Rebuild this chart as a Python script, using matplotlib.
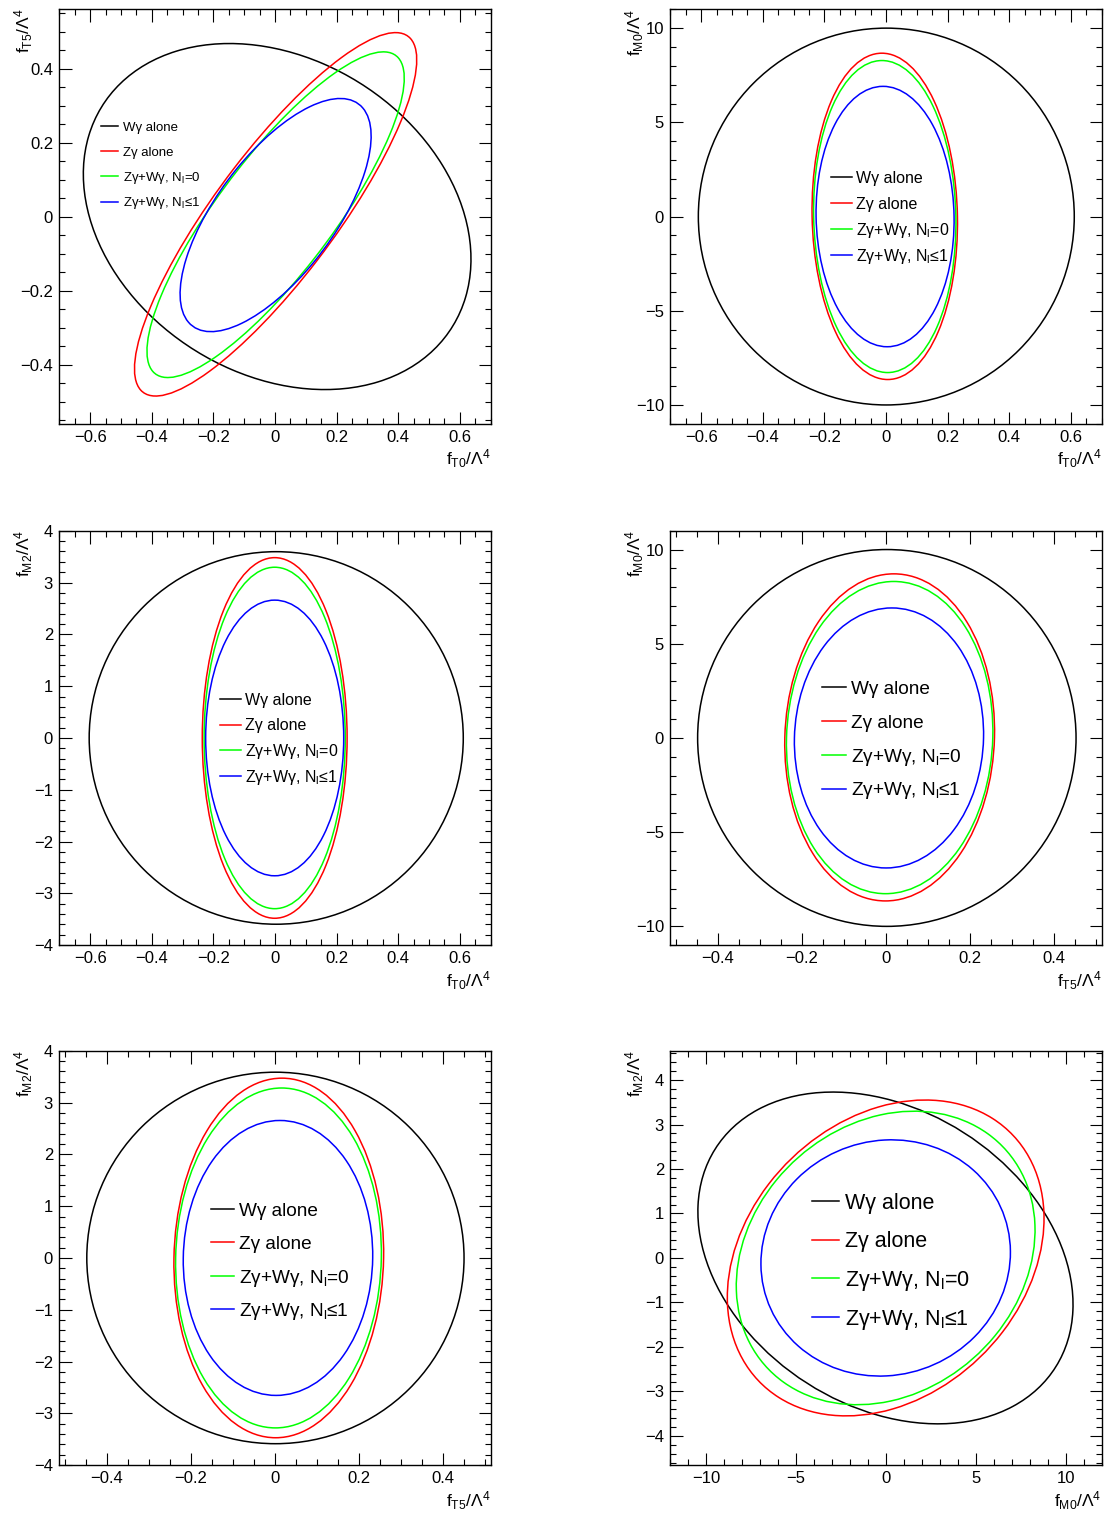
import matplotlib
matplotlib.use("Agg")

import matplotlib.pyplot as plt
import numpy as np
from matplotlib.lines import Line2D
from matplotlib.patches import Ellipse
from matplotlib.ticker import FuncFormatter, MultipleLocator
from matplotlib.transforms import ScaledTranslation


# ---------------------------------- #
# ---------------DATA--------------- #
# ---------------------------------- #

# Contour order in every panel
CURVE_LABELS = [
    "W\u03b3 alone",
    "Z\u03b3 alone",
    "Z\u03b3+W\u03b3, $\\mathrm{N}_{\\mathrm{l}}$=0",
    "Z\u03b3+W\u03b3, $\\mathrm{N}_{\\mathrm{l}}$\u22641",
]
CURVE_COLORS = ["#000000", "#ff0000", "#00ff00", "#0000ff"]

# 95% CL contours: centre (cx, cy), half extent along x and y, x-y correlation
# f_T0 vs f_T5
T0T5_CX = [0.007, 0.002, 0.002, 0.002]
T0T5_CY = [0.0, 0.006, 0.005, 0.004]
T0T5_HX = [0.629, 0.458, 0.4175, 0.31]
T0T5_HY = [0.4675, 0.491, 0.44, 0.315]
T0T5_RHO = [-0.246, 0.85, 0.838, 0.677]

# f_T0 vs f_M0
T0M0_CX = [0.001, -0.004, -0.004, -0.003]
T0M0_CY = [0.0, 0.01, 0.0, 0.0]
T0M0_HX = [0.61, 0.236, 0.231, 0.224]
T0M0_HY = [10.0, 8.66, 8.28, 6.91]
T0M0_RHO = [0.0, -0.04, -0.04, -0.03]

# f_T0 vs f_M2
T0M2_CX = [0.004, -0.001, -0.001, -0.001]
T0M2_CY = [0.0, 0.0, 0.0, 0.0]
T0M2_HX = [0.607, 0.235, 0.229, 0.224]
T0M2_HY = [3.595, 3.48, 3.295, 2.66]
T0M2_RHO = [0.0, 0.0, 0.0, 0.0]

# f_T5 vs f_M0
T5M0_CX = [0.002, 0.0087, 0.0087, 0.0071]
T5M0_CY = [0.0, 0.03, 0.02, 0.0]
T5M0_HX = [0.45, 0.2495, 0.2455, 0.225]
T5M0_HY = [10.0, 8.68, 8.285, 6.90]
T5M0_RHO = [0.0, 0.04, 0.04, 0.03]

# f_T5 vs f_M2
T5M2_CX = [0.001, 0.009, 0.0083, 0.0071]
T5M2_CY = [0.0, 0.0, 0.0, 0.0]
T5M2_HX = [0.4486, 0.2494, 0.2447, 0.2253]
T5M2_HY = [3.585, 3.47, 3.28, 2.653]
T5M2_RHO = [0.0, 0.03, 0.03, 0.02]

# f_M0 vs f_M2
M0M2_CX = [-0.03, -0.018, -0.019, -0.018]
M0M2_CY = [0.0, 0.0, 0.0, 0.0]
M0M2_HX = [10.435, 8.81, 8.31, 6.94]
M0M2_HY = [3.73, 3.551, 3.30, 2.656]
M0M2_RHO = [-0.28, 0.25, 0.19, 0.047]


# ---------------------------------- #
# --------------STYLE--------------- #
# ---------------------------------- #

plt.rcParams["font.family"] = ["Liberation Sans", "DejaVu Sans"]
plt.rcParams["mathtext.fontset"] = "custom"
plt.rcParams["mathtext.rm"] = "Liberation Sans"
plt.rcParams["mathtext.it"] = "Liberation Sans:italic"
plt.rcParams["mathtext.bf"] = "Liberation Sans:bold"

LINE_WIDTH = 1.1
TICK_SIZE = 12
LABEL_SIZE = 12.5

# Axes rectangles in figure fraction
COL_LEFT = [0.05342, 0.60387]
ROW_BOTTOM = [0.72008, 0.37569, 0.03223]
AX_WIDTH = 0.38865
AX_HEIGHT = 0.27378


def axis_title(name):
    """
    Build the axis title for a given coupling name.

    :param name:    Operator name, e.g. 'T0'.

    :return:        The mathtext string.
    """
    return "f$_{\\mathrm{" + name + "}}$/\u039b$^{4}$"


def tick_text(value, pos):
    """
    Format tick labels the ROOT way: no trailing zeros and a real minus sign.
    """
    value = round(value, 6)
    if value == 0:
        return "0"
    return f"{value:g}".replace("-", "\u2212")


def contour_patch(cx, cy, hx, hy, rho, color):
    """
    Create an ellipse from its centre, its half extents along the axes and
    the correlation between the two coordinates.
    """
    cov = np.array([[hx * hx, rho * hx * hy], [rho * hx * hy, hy * hy]])
    vals, vecs = np.linalg.eigh(cov)
    angle = np.degrees(np.arctan2(vecs[1, 1], vecs[0, 1]))
    return Ellipse(
        (cx, cy), 2 * np.sqrt(vals[1]), 2 * np.sqrt(vals[0]), angle=angle,
        fill=False, edgecolor=color, linewidth=LINE_WIDTH
    )


def draw_key(fig, ax, x0, x1, xt, y0, dy, size):
    """
    Draw the legend lines and texts, rows spaced by dy (axes fraction).
    """
    # Shift the text so that the line sits at mid cap height
    shift = ScaledTranslation(0, -0.36 * size / 72, fig.dpi_scale_trans)
    for i, (label, color) in enumerate(zip(CURVE_LABELS, CURVE_COLORS)):
        y = y0 - i * dy
        ax.add_line(Line2D([x0, x1], [y, y], transform=ax.transAxes,
                           color=color, linewidth=LINE_WIDTH))
        ax.text(xt, y, label, transform=ax.transAxes + shift, fontsize=size,
                ha="left", va="baseline")


# Panel definitions: data, axis names, ranges, tick spacing and legend geometry
PANELS = [
    dict(data=(T0T5_CX, T0T5_CY, T0T5_HX, T0T5_HY, T0T5_RHO), xname="T0", yname="T5",
         xlim=(-0.7, 0.7), ylim=(-0.56, 0.56), xtick=(0.2, 0.05), ytick=(0.2, 0.05),
         key=(0.0967, 0.1361, 0.1477, 0.7185, 0.0608, 9.5)),
    dict(data=(T0M0_CX, T0M0_CY, T0M0_HX, T0M0_HY, T0M0_RHO), xname="T0", yname="M0",
         xlim=(-0.7, 0.7), ylim=(-11, 11), xtick=(0.2, 0.05), ytick=(5, 1),
         key=(0.3725, 0.4212, 0.4305, 0.5947, 0.0627, 11.5)),
    dict(data=(T0M2_CX, T0M2_CY, T0M2_HX, T0M2_HY, T0M2_RHO), xname="T0", yname="M2",
         xlim=(-0.7, 0.7), ylim=(-4, 4), xtick=(0.2, 0.05), ytick=(1, 0.2),
         key=(0.3725, 0.4212, 0.4305, 0.5940, 0.0620, 11.5)),
    dict(data=(T5M0_CX, T5M0_CY, T5M0_HX, T5M0_HY, T5M0_RHO), xname="T5", yname="M0",
         xlim=(-0.513, 0.513), ylim=(-11, 11), xtick=(0.2, 0.05), ytick=(5, 1),
         key=(0.3516, 0.4073, 0.4189, 0.6222, 0.0815, 13.7)),
    dict(data=(T5M2_CX, T5M2_CY, T5M2_HX, T5M2_HY, T5M2_RHO), xname="T5", yname="M2",
         xlim=(-0.513, 0.513), ylim=(-4, 4), xtick=(0.2, 0.05), ytick=(1, 0.2),
         key=(0.3516, 0.4050, 0.4166, 0.6181, 0.0806, 13.7)),
    dict(data=(M0M2_CX, M0M2_CY, M0M2_HX, M0M2_HY, M0M2_RHO), xname="M0", yname="M2",
         xlim=(-12, 12), ylim=(-4.66, 4.66), xtick=(5, 1), ytick=(1, 0.2),
         key=(0.3285, 0.3910, 0.4050, 0.6374, 0.0931, 15.5)),
]


# ---------------------------------- #
# ---------------PLOT--------------- #
# ---------------------------------- #

fig = plt.figure(figsize=(11.1, 15.14), dpi=100)
fig.patch.set_facecolor("white")

for idx, panel in enumerate(PANELS):
    row, col = divmod(idx, 2)
    ax = fig.add_axes([COL_LEFT[col], ROW_BOTTOM[row], AX_WIDTH, AX_HEIGHT])

    # Contours
    for cx, cy, hx, hy, rho, color in zip(*panel["data"], CURVE_COLORS):
        ax.add_patch(contour_patch(cx, cy, hx, hy, rho, color))

    ax.set_xlim(*panel["xlim"])
    ax.set_ylim(*panel["ylim"])

    # ROOT-like ticks on all four sides
    ax.xaxis.set_major_locator(MultipleLocator(panel["xtick"][0]))
    ax.xaxis.set_minor_locator(MultipleLocator(panel["xtick"][1]))
    ax.yaxis.set_major_locator(MultipleLocator(panel["ytick"][0]))
    ax.yaxis.set_minor_locator(MultipleLocator(panel["ytick"][1]))
    ax.xaxis.set_major_formatter(FuncFormatter(tick_text))
    ax.yaxis.set_major_formatter(FuncFormatter(tick_text))
    ax.tick_params(which="both", direction="in", top=True, right=True,
                   width=0.8, labelsize=TICK_SIZE, pad=4.5)
    ax.tick_params(which="major", length=9)
    ax.tick_params(which="minor", length=4.6)
    for spine in ax.spines.values():
        spine.set_linewidth(1.0)

    # Axis titles at the top left and bottom right corners
    ax.text(1.0, -0.099, axis_title(panel["xname"]), transform=ax.transAxes,
            fontsize=LABEL_SIZE, ha="right", va="baseline")
    ax.text(-0.0695, 1.002, axis_title(panel["yname"]), transform=ax.transAxes,
            fontsize=LABEL_SIZE, rotation=90, rotation_mode="anchor",
            ha="right", va="baseline")

    draw_key(fig, ax, *panel["key"])

fig.savefig("out.png", dpi=100)
plt.close()
